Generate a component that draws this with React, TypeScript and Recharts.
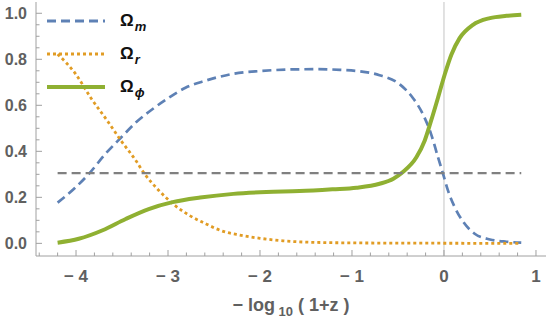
import { Legend, Line, LineChart, ReferenceLine, XAxis, YAxis } from "recharts";

// values
const omegaMX = [-4.2, -4.0, -3.86, -3.68, -3.51, -3.35, -3.17, -2.99, -2.81, -2.61, -2.47, -2.29, -2.0, -1.64, -1.39, -1.13, -0.92, -0.7, -0.48, -0.34, -0.23, -0.14, -0.065, -0.01, 0.043, 0.116, 0.21, 0.33, 0.5, 0.68, 0.84];
const omegaMY = [0.177, 0.245, 0.302, 0.389, 0.46, 0.525, 0.583, 0.633, 0.676, 0.705, 0.721, 0.737, 0.749, 0.756, 0.757, 0.754, 0.748, 0.731, 0.691, 0.633, 0.562, 0.475, 0.374, 0.302, 0.23, 0.158, 0.093, 0.043, 0.017, 0.007, 0.003];

const omegaRX = [-4.2, -4.0, -3.84, -3.66, -3.51, -3.35, -3.26, -3.1, -2.95, -2.77, -2.61, -2.4, -2.22, -2.0, -1.75, -1.39, -1.0, -0.5, 0, 0.5, 0.84];
const omegaRY = [0.822, 0.734, 0.633, 0.533, 0.446, 0.36, 0.305, 0.23, 0.173, 0.122, 0.089, 0.052, 0.036, 0.022, 0.011, 0.004, 0.002, 0.001, 0.0005, 0.0001, 0];

const omegaPhiX = [-4.2, -3.97, -3.71, -3.46, -3.21, -2.95, -2.65, -2.29, -1.93, -1.57, -1.21, -0.95, -0.7, -0.55, -0.45, -0.3, -0.21, -0.14, -0.065, 0.008, 0.08, 0.17, 0.315, 0.5, 0.68, 0.84];
const omegaPhiY = [0.003, 0.02, 0.057, 0.106, 0.149, 0.179, 0.199, 0.215, 0.223, 0.227, 0.235, 0.242, 0.259, 0.281, 0.309, 0.374, 0.446, 0.533, 0.633, 0.734, 0.82, 0.892, 0.95, 0.979, 0.989, 0.994];

const refX = [-4.2, 0.84];
const refY = [0.305, 0.305];

const xTicks = [-4.4, -4.2, -4, -3.8, -3.6, -3.4, -3.2, -3, -2.8, -2.6, -2.4, -2.2, -2, -1.8, -1.6, -1.4, -1.2, -1, -0.8, -0.6, -0.4, -0.2, 0, 0.2, 0.4, 0.6, 0.8, 1];
const xLabelTicks = [-4, -3, -2, -1, 0, 1];
const yTicks = [0, 0.05, 0.1, 0.15, 0.2, 0.25, 0.3, 0.35, 0.4, 0.45, 0.5, 0.55, 0.6, 0.65, 0.7, 0.75, 0.8, 0.85, 0.9, 0.95, 1];
const yLabelTicks = [0, 0.2, 0.4, 0.6, 0.8, 1];

const toPoints = (xs: number[], ys: number[]) => xs.map((x, i) => ({ x, y: ys[i] }));

const series = [
  { key: "m", sub: "m", color: "#5e81b5", dash: "9 5", width: 2.7, data: toPoints(omegaMX, omegaMY) },
  { key: "r", sub: "r", color: "#e19c24", dash: "3 3", width: 2.8, data: toPoints(omegaRX, omegaRY) },
  { key: "phi", sub: "\u03d5", color: "#8fb032", dash: undefined, width: 4, data: toPoints(omegaPhiX, omegaPhiY) },
];

const frameColor = "#a0a0a0";
const labelColor = "#606060";
const fontFamily = "'Liberation Sans', Arial, sans-serif";

const isIn = (list: number[], v: number) => list.some((t) => Math.abs(t - v) < 1e-6);

const fmtX = (v: number) => (v < 0 ? `\u2212 ${Math.abs(v)}` : `${v}`);
const fmtY = (v: number) => v.toFixed(1);

const makeTick = (side: "bottom" | "top" | "left" | "right") => (props: any) => {
  const { x, y, payload } = props;
  const v = payload.value as number;
  const major = side === "bottom" || side === "top" ? isIn(xLabelTicks, v) : isIn(yLabelTicks, v);
  const len = major ? 6 : 3.5;
  let line;
  if (side === "bottom") line = <line x1={x} y1={y} x2={x} y2={y - len} stroke={frameColor} />;
  else if (side === "top") line = <line x1={x} y1={y} x2={x} y2={y + len} stroke={frameColor} />;
  else if (side === "left") line = <line x1={x} y1={y} x2={x + len} y2={y} stroke={frameColor} />;
  else line = <line x1={x} y1={y} x2={x - len} y2={y} stroke={frameColor} />;
  return (
    <g>
      {line}
      {side === "bottom" && major && (
        <text x={x} y={y + 26} textAnchor="middle" fill={labelColor} fontSize={17} fontWeight="bold" fontFamily={fontFamily}>
          {fmtX(v)}
        </text>
      )}
      {side === "left" && major && (
        <text x={x - 9} y={y + 6} textAnchor="end" fill={labelColor} fontSize={16} fontWeight="bold" fontFamily={fontFamily}>
          {fmtY(v)}
        </text>
      )}
    </g>
  );
};

const AxisTitle = (props: any) => {
  const { x, y, width } = props.viewBox;
  return (
    <text x={x + width / 2} y={y + 55} textAnchor="middle" fill={labelColor} fontSize={18} fontWeight="bold" fontFamily={fontFamily}>
      {"\u2212 log"}
      <tspan fontSize={13} dy={5}>{" 10"}</tspan>
      <tspan dy={-5}>{" ( 1+z )"}</tspan>
    </text>
  );
};

const LegendBox = () => (
  <div style={{ fontFamily }}>
    {series.map((s) => (
      <div key={s.key} style={{ display: "flex", alignItems: "center", height: 33 }}>
        <svg width={60} height={8}>
          <line x1={0} y1={4} x2={58} y2={4} stroke={s.color} strokeWidth={s.key === "phi" ? 4 : 2.8} strokeDasharray={s.dash} />
        </svg>
        <span style={{ marginLeft: 13, fontSize: 17, fontWeight: "bold", color: "#111" }}>
          {"\u03a9"}
          <span style={{ fontSize: 13, fontStyle: "italic", position: "relative", top: 5, marginLeft: 1 }}>{s.sub}</span>
        </span>
      </div>
    ))}
  </div>
);

export default function App() {
  return (
    <div style={{ position: "absolute", left: 0, top: 0, background: "#fff" }}>
      <LineChart width={548} height={327} margin={{ top: 2, right: 2, bottom: 0, left: 0 }}>
        <XAxis
          xAxisId="b"
          dataKey="x"
          type="number"
          domain={[-4.435, 1.109]}
          allowDataOverflow
          ticks={xTicks}
          interval={0}
          height={71}
          tickSize={0}
          tickMargin={0}
          tickLine={false}
          stroke={frameColor}
          tick={makeTick("bottom")}
          label={{ content: AxisTitle }}
        />
        <XAxis
          xAxisId="t"
          orientation="top"
          dataKey="x"
          type="number"
          domain={[-4.435, 1.109]}
          allowDataOverflow
          ticks={xTicks}
          interval={0}
          height={0}
          tickSize={0}
          tickMargin={0}
          tickLine={false}
          stroke={frameColor}
          tick={makeTick("top")}
        />
        <YAxis
          yAxisId="l"
          type="number"
          domain={[-0.055, 1.049]}
          allowDataOverflow
          ticks={yTicks}
          interval={0}
          width={36}
          tickSize={0}
          tickMargin={0}
          tickLine={false}
          stroke={frameColor}
          tick={makeTick("left")}
        />
        <YAxis
          yAxisId="r"
          orientation="right"
          type="number"
          domain={[-0.055, 1.049]}
          allowDataOverflow
          ticks={yTicks}
          interval={0}
          width={0}
          tickSize={0}
          tickMargin={0}
          tickLine={false}
          stroke={frameColor}
          tick={makeTick("right")}
        />
        <ReferenceLine xAxisId="b" yAxisId="l" x={0} stroke="#c4c4c4" strokeWidth={1} />
        {series.map((s) => (
          <Line
            key={s.key}
            xAxisId="b"
            yAxisId="l"
            data={s.data}
            dataKey="y"
            name={s.key}
            type="monotone"
            stroke={s.color}
            strokeWidth={s.width}
            strokeDasharray={s.dash}
            dot={false}
            activeDot={false}
            isAnimationActive={false}
          />
        ))}
        <Line
          xAxisId="b"
          yAxisId="l"
          data={toPoints(refX, refY)}
          dataKey="y"
          type="linear"
          stroke="#808080"
          strokeWidth={2.2}
          strokeDasharray="9 5"
          dot={false}
          activeDot={false}
          legendType="none"
          isAnimationActive={false}
        />
        <Legend
          layout="vertical"
          align="center"
          verticalAlign="middle"
          content={LegendBox}
          wrapperStyle={{ top: 4, left: 47, width: "auto", height: "auto" }}
        />
      </LineChart>
    </div>
  );
}
